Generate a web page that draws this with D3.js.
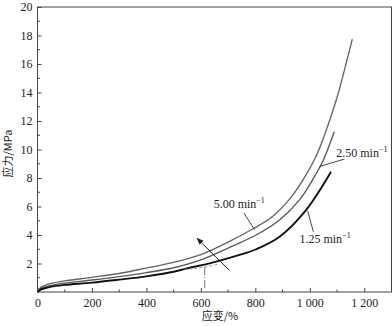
<!DOCTYPE html>
<html>
<head>
<meta charset="utf-8">
<script src="https://cdn.jsdelivr.net/npm/d3@7"></script>
<style>
  html, body { margin: 0; padding: 0; background: #fff; }
  svg { display: block; }
  text { font-family: "Liberation Serif", "Times New Roman", serif; fill: #222; }
  .cjk { font-family: "Noto Sans CJK SC", sans-serif; }
</style>
</head>
<body>
<svg id="chart" width="392" height="326"></svg>
<script>
// Stress–strain curves at three strain rates
const strain5 = [0, 10, 25, 50, 100, 200, 300, 400, 500, 600, 700, 790, 863, 925, 973, 1020, 1050, 1096, 1156];
const stress5 = [0, 0.3, 0.45, 0.6, 0.78, 1.03, 1.3, 1.68, 2.08, 2.62, 3.5, 4.42, 5.3, 6.5, 7.8, 9.4, 10.8, 13.4, 17.75];

const strain250 = [0, 10, 25, 50, 100, 200, 300, 400, 500, 600, 717, 803, 889, 962, 1017, 1046, 1090];
const stress250 = [0, 0.22, 0.35, 0.47, 0.62, 0.84, 1.08, 1.36, 1.7, 2.25, 3.23, 4.0, 5.05, 6.46, 8.09, 9.1, 11.25];

const strain125 = [0, 10, 25, 50, 100, 200, 300, 400, 500, 559, 632, 742, 803, 889, 986, 1078];
const stress125 = [0, 0.15, 0.25, 0.38, 0.5, 0.66, 0.87, 1.1, 1.42, 1.7, 2.01, 2.6, 3.0, 3.88, 5.75, 8.44];

const xTicks = [0, 200, 400, 600, 800, 1000, 1200];
const xTickLabels = ["0", "200", "400", "600", "800", "1 000", "1 200"];
const yTicks = [2, 4, 6, 8, 10, 12, 14, 16, 18, 20];

// Annotation anchors in data units: [strain, stress]
const rateLabels = ["5.00", "2.50", "1.25"];
const labelAt = [[647, 5.86], [1097, 9.5], [962, 3.44]];
const leaderFrom = [[758, 5.54], [1127, 9.33], [1013, 4.23]];
const leaderTo = [[797, 4.38], [1035, 8.8], [992, 5.7]];
const arrowFrom = [705, 1.51];
const arrowTo = [586, 3.77];
const dashStrain = [540, 575, 614, 661];
const dashStress = [1.59, 1.64, 1.75, 1.94];
const dropStrain = 614;
const dropStress = [1.75, 0.25];

const svg = d3.select("#chart");
const x = d3.scaleLinear().domain([0, 1300]).range([37.5, 391.5]);
const y = d3.scaleLinear().domain([0, 20]).range([292, 7]);

const ink = "#333";

// frame
svg.append("rect")
  .attr("x", x(0)).attr("y", y(20))
  .attr("width", x(1300) - x(0)).attr("height", y(0) - y(20))
  .attr("fill", "none").attr("stroke", "#444").attr("stroke-width", 1);

// x axis (ticks pointing inward)
const xAxis = d3.axisBottom(x).tickValues(xTicks).tickSize(-4).tickPadding(6)
  .tickFormat((d, i) => xTickLabels[i]);
const gx = svg.append("g").attr("transform", `translate(0,${y(0)})`).call(xAxis);
gx.select(".domain").remove();
gx.selectAll("line").attr("stroke", "#444");
gx.selectAll("text").attr("font-size", 12).attr("fill", "#222")
  .style("font-family", '"Liberation Serif", serif');
const xMinor = d3.range(100, 1300, 200);
svg.append("g").selectAll("line").data(xMinor).join("line")
  .attr("x1", d => x(d)).attr("x2", d => x(d))
  .attr("y1", y(0)).attr("y2", y(0) - 2.5)
  .attr("stroke", "#444");

// y axis (ticks pointing inward)
const yAxis = d3.axisLeft(y).tickValues(yTicks).tickSize(-4).tickPadding(5).tickFormat(d3.format("d"));
const gy = svg.append("g").attr("transform", `translate(${x(0)},0)`).call(yAxis);
gy.select(".domain").remove();
gy.selectAll("line").attr("stroke", "#444");
gy.selectAll("text").attr("font-size", 12).attr("fill", "#222")
  .style("font-family", '"Liberation Serif", serif');
const yMinor = d3.range(1, 20, 2);
svg.append("g").selectAll("line").data(yMinor).join("line")
  .attr("x1", x(0)).attr("x2", x(0) + 2.5)
  .attr("y1", d => y(d)).attr("y2", d => y(d))
  .attr("stroke", "#444");

// axis titles
svg.append("text").attr("class", "cjk")
  .attr("transform", `translate(12,${(y(0) + y(20)) / 2 + 4}) rotate(-90)`)
  .attr("text-anchor", "middle").attr("font-size", 11)
  .text("应力/MPa");
svg.append("text").attr("class", "cjk")
  .attr("x", 220).attr("y", 320)
  .attr("text-anchor", "middle").attr("font-size", 11)
  .text("应变/%");

// curves
const line = d3.line().x(d => x(d[0])).y(d => y(d[1])).curve(d3.curveCatmullRom.alpha(0.5));
const series = [
  { xs: strain5, ys: stress5, color: "#646464", w: 1.35 },
  { xs: strain250, ys: stress250, color: "#585858", w: 1.35 },
  { xs: strain125, ys: stress125, color: "#111", w: 1.9 }
];
series.forEach(s => {
  svg.append("path")
    .datum(s.xs.map((v, i) => [v, s.ys[i]]))
    .attr("d", line)
    .attr("fill", "none")
    .attr("stroke", s.color)
    .attr("stroke-width", s.w);
});

// dashed segment and dash-dot drop line
svg.append("path")
  .datum(dashStrain.map((v, i) => [v, dashStress[i]]))
  .attr("d", line).attr("fill", "none")
  .attr("stroke", "#999").attr("stroke-width", 1).attr("stroke-dasharray", "3,2");
svg.append("line")
  .attr("x1", x(dropStrain)).attr("x2", x(dropStrain))
  .attr("y1", y(dropStress[0])).attr("y2", y(dropStress[1]))
  .attr("stroke", "#777").attr("stroke-width", 1).attr("stroke-dasharray", "8,2,1,2");

// leaders and rate labels
rateLabels.forEach((r, i) => {
  svg.append("line")
    .attr("x1", x(leaderFrom[i][0])).attr("y1", y(leaderFrom[i][1]))
    .attr("x2", x(leaderTo[i][0])).attr("y2", y(leaderTo[i][1]))
    .attr("stroke", ink).attr("stroke-width", 0.9);
  const t = svg.append("text")
    .attr("x", x(labelAt[i][0])).attr("y", y(labelAt[i][1]))
    .attr("font-size", 12);
  t.append("tspan").text(r + " min");
  t.append("tspan").attr("dy", -5).attr("font-size", 8).text("\u22121");
});

// arrow showing increasing rate
const defs = svg.append("defs");
defs.append("marker").attr("id", "ah")
  .attr("viewBox", "0 0 10 10").attr("refX", 9).attr("refY", 5)
  .attr("markerWidth", 7).attr("markerHeight", 7).attr("orient", "auto")
  .append("path").attr("d", "M0,1 L10,5 L0,9 Z").attr("fill", "#222");
svg.append("line")
  .attr("x1", x(arrowFrom[0])).attr("y1", y(arrowFrom[1]))
  .attr("x2", x(arrowTo[0])).attr("y2", y(arrowTo[1]))
  .attr("stroke", "#222").attr("stroke-width", 1)
  .attr("marker-end", "url(#ah)");
</script>
</body>
</html>
